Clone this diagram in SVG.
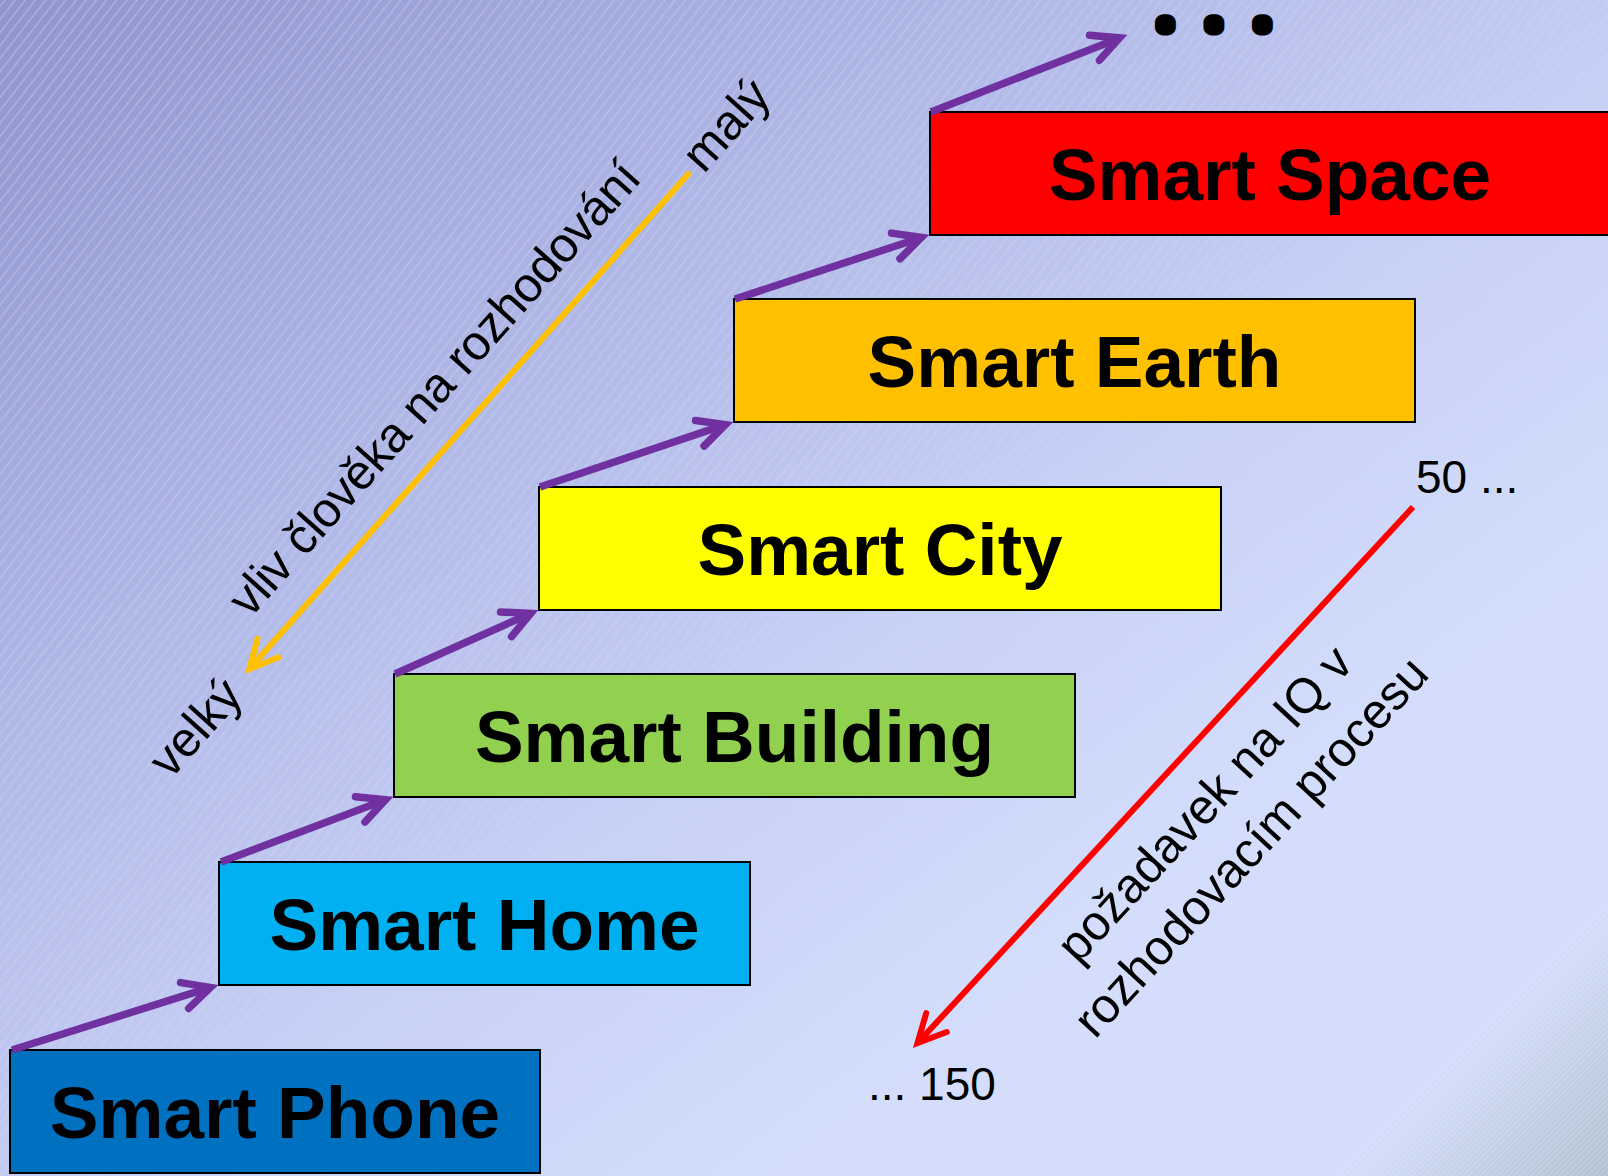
<svg xmlns="http://www.w3.org/2000/svg" width="1608" height="1176" viewBox="0 0 1608 1176">
  <style>
    .box { stroke: #000; stroke-width: 2; }
    .lbl { font-family: "Liberation Sans", Arial, sans-serif; font-weight: bold; font-size: 73px; fill: #000; text-anchor: middle; }
    .note { font-family: "Liberation Sans", Arial, sans-serif; font-size: 49px; fill: #000; }
    .num { font-family: "Liberation Sans", Arial, sans-serif; font-size: 46px; fill: #000; }
    .step { fill: none; stroke: #7030A0; stroke-width: 7.5; stroke-linecap: butt; }
  </style>
  <defs>
    <linearGradient id="bgGrad" x1="0" y1="0" x2="1" y2="1">
      <stop offset="0" stop-color="#8E94CC"/>
      <stop offset="0.3" stop-color="#AEB6E6"/>
      <stop offset="0.55" stop-color="#C8D1F6"/>
      <stop offset="0.75" stop-color="#D4DEFC"/>
      <stop offset="1" stop-color="#D5DFFD"/>
    </linearGradient>
    <linearGradient id="fadeGrad" x1="0" y1="0" x2="1" y2="1">
      <stop offset="0" stop-color="#fff"/>
      <stop offset="0.45" stop-color="#888"/>
      <stop offset="0.7" stop-color="#000"/>
    </linearGradient>
    <mask id="fadeMask" maskUnits="userSpaceOnUse" x="0" y="0" width="1608" height="1176">
      <rect x="0" y="0" width="1608" height="1176" fill="url(#fadeGrad)"/>
    </mask>
    <pattern id="hatch" width="8" height="8" patternUnits="userSpaceOnUse" patternTransform="rotate(38)">
      <line x1="4" y1="0" x2="4" y2="8" stroke="#FFFFFF" stroke-width="1" stroke-opacity="0.4"/>
    </pattern>
    <linearGradient id="cornerGrad" gradientUnits="userSpaceOnUse" x1="1472" y1="1040" x2="1608" y2="1176">
      <stop offset="0" stop-color="#D3DDFB"/>
      <stop offset="1" stop-color="#B0C0D0"/>
    </linearGradient>
    <pattern id="hatch2" width="4" height="4" patternUnits="userSpaceOnUse" patternTransform="rotate(45)">
      <line x1="2" y1="0" x2="2" y2="4" stroke="#FFFFFF" stroke-width="0.8" stroke-opacity="0.35"/>
    </pattern>
    <marker id="ahPurple" markerUnits="userSpaceOnUse" orient="auto" markerWidth="1" markerHeight="1" refX="0" refY="0" overflow="visible">
      <path d="M-27,-13.5 L0,0 L-27,13.5" fill="none" stroke="#7030A0" stroke-width="7.5" stroke-linecap="round" stroke-linejoin="miter"/>
    </marker>
    <marker id="ahOrange" markerUnits="userSpaceOnUse" orient="auto" markerWidth="1" markerHeight="1" refX="0" refY="0" overflow="visible">
      <path d="M-28,-14 L0,0 L-28,14" fill="none" stroke="#FFC000" stroke-width="6" stroke-linecap="round" stroke-linejoin="miter"/>
    </marker>
    <marker id="ahRed" markerUnits="userSpaceOnUse" orient="auto" markerWidth="1" markerHeight="1" refX="0" refY="0" overflow="visible">
      <path d="M-28,-14 L0,0 L-28,14" fill="none" stroke="#FF0000" stroke-width="6" stroke-linecap="round" stroke-linejoin="miter"/>
    </marker>
  </defs>

  <g id="background">
    <rect x="0" y="0" width="1608" height="1176" fill="url(#bgGrad)"/>
    <rect x="0" y="0" width="1608" height="1176" fill="url(#hatch)" mask="url(#fadeMask)"/>
    <polygon points="1336,1176 1608,904 1608,1176" fill="url(#cornerGrad)"/>
    <polygon points="1336,1176 1608,904 1608,1176" fill="url(#hatch2)"/>
  </g>

  <g id="node-smart-phone">
    <rect class="box" x="10" y="1050" width="530" height="123" fill="#0070C0"/>
    <text class="lbl" x="275" y="1138">Smart Phone</text>
  </g>
  <g id="node-smart-home">
    <rect class="box" x="219" y="862" width="531" height="123" fill="#00B0F0"/>
    <text class="lbl" x="484.5" y="950">Smart Home</text>
  </g>
  <g id="node-smart-building">
    <rect class="box" x="394" y="674" width="681" height="123" fill="#92D050"/>
    <text class="lbl" x="734.5" y="762">Smart Building</text>
  </g>
  <g id="node-smart-city">
    <rect class="box" x="539" y="487" width="682" height="123" fill="#FFFF00"/>
    <text class="lbl" x="880" y="575">Smart City</text>
  </g>
  <g id="node-smart-earth">
    <rect class="box" x="734" y="299" width="681" height="123" fill="#FFC000"/>
    <text class="lbl" x="1074.5" y="387">Smart Earth</text>
  </g>
  <g id="node-smart-space">
    <rect class="box" x="930" y="112" width="682" height="123" fill="#FF0000"/>
    <text class="lbl" x="1270" y="200">Smart Space</text>
  </g>
  <g id="node-more">
    <text x="1161.6" y="26.5" font-family="Liberation Sans, Arial, sans-serif" font-weight="bold" font-size="28" letter-spacing="40.7" fill="#000" stroke="#000" stroke-width="17" stroke-linejoin="round">...</text>
  </g>

  <g id="connectors">
    <path class="step" d="M12,1050 L210.4,987.4" marker-end="url(#ahPurple)"/>
    <path class="step" d="M221,862 L385.5,799.8" marker-end="url(#ahPurple)"/>
    <path class="step" d="M395,674 L530.7,613.3" marker-end="url(#ahPurple)"/>
    <path class="step" d="M540,487 L725.4,424.6" marker-end="url(#ahPurple)"/>
    <path class="step" d="M735,299 L921.4,237.5" marker-end="url(#ahPurple)"/>
    <path class="step" d="M931,112 L1119.6,37.9" marker-end="url(#ahPurple)"/>
    <path d="M690,172 L249.4,669" fill="none" stroke="#FFC000" stroke-width="6" marker-end="url(#ahOrange)"/>
    <path d="M1413,507 L917.5,1043.1" fill="none" stroke="#FF0000" stroke-width="6" marker-end="url(#ahRed)"/>
  </g>

  <g id="labels">
    <g transform="rotate(-48.2)">
      <text class="note" x="0" y="599" text-anchor="middle" textLength="590">vliv člověka na rozhodování</text>
      <text class="note" x="339" y="641">malý</text>
      <text class="note" x="-468" y="647">velký</text>
    </g>
    <g transform="rotate(-47.3)">
      <text class="note" x="226" y="1447" text-anchor="middle">požadavek na IQ v</text>
      <text class="note" x="226" y="1510" text-anchor="middle">rozhodovacím procesu</text>
    </g>
    <text class="num" x="1416" y="493">50 ...</text>
    <text class="num" x="868" y="1100">... 150</text>
  </g>
</svg>
